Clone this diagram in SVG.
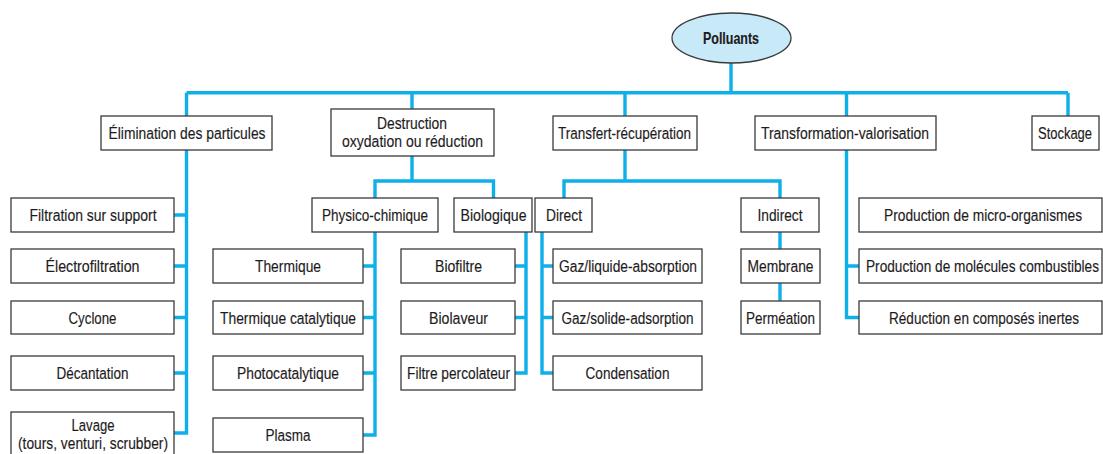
<svg xmlns="http://www.w3.org/2000/svg" width="1103" height="454" viewBox="0 0 1103 454">
<style>
.c{fill:none;stroke:#0fafe9;stroke-width:3.4;stroke-linejoin:miter;stroke-linecap:butt}
.b{fill:#ffffff;stroke:#3a3a3a;stroke-width:1.3}
.t{font-family:"Liberation Sans",Arial,sans-serif;font-size:17px;fill:#1e1b1c;stroke:#1e1b1c;stroke-width:0.15;text-anchor:middle}
.tb{font-weight:bold}
</style>
<rect width="1103" height="454" fill="#ffffff"/>
<g id="connectors">
<path class="c" d="M731,63V92.7M186.5,92.7H1068M186.5,92.7V116M412,92.7V109M625,92.7V116M846.5,92.7V116M1068,92.7V116"/>
<path class="c" d="M186.5,150V433H174M174,215H186.5M174,266H186.5M174,317.5H186.5M174,373H186.5"/>
<path class="c" d="M412,156V181M375,198V181H493.5V198"/>
<path class="c" d="M375,232V435H363M363,266H375M363,317.5H375M363,373H375"/>
<path class="c" d="M526,232V373H515M515,266H526M515,317.5H526"/>
<path class="c" d="M625,150V181M564,198V181H780V198"/>
<path class="c" d="M542,232V373H553M553,266H542M553,317.5H542"/>
<path class="c" d="M780,232V249M780,283V301"/>
<path class="c" d="M846.5,150V317.5H859M859,266H846.5"/>
</g>
<g id="polluants">
<ellipse cx="731.5" cy="38" rx="59.5" ry="25" fill="#c8e9f8" stroke="#3a3a3a" stroke-width="1.3"/>
<text class="t tb" transform="translate(731,44) scale(0.8,1)" textLength="70" lengthAdjust="spacingAndGlyphs">Polluants</text>
</g>
<g id="elimination">
<rect class="b" x="101" y="116" width="171" height="34"/>
<text class="t" transform="translate(187,139) scale(0.8,1)" textLength="196.25" lengthAdjust="spacingAndGlyphs">Élimination des particules</text>
</g>
<g id="destruction">
<rect class="b" x="331" y="109" width="163" height="47"/>
<text class="t" transform="translate(412,128.5) scale(0.8,1)" textLength="87.5" lengthAdjust="spacingAndGlyphs">Destruction</text>
<text class="t" transform="translate(412.5,146.5) scale(0.8,1)" textLength="176.25" lengthAdjust="spacingAndGlyphs">oxydation ou réduction</text>
</g>
<g id="transfert">
<rect class="b" x="553" y="116" width="144" height="34"/>
<text class="t" transform="translate(624.5,139) scale(0.8,1)" textLength="166.25" lengthAdjust="spacingAndGlyphs">Transfert-récupération</text>
</g>
<g id="transformation">
<rect class="b" x="755" y="116" width="181" height="34"/>
<text class="t" transform="translate(845,139) scale(0.8,1)" textLength="210" lengthAdjust="spacingAndGlyphs">Transformation-valorisation</text>
</g>
<g id="stockage">
<rect class="b" x="1032" y="116" width="67" height="34"/>
<text class="t" transform="translate(1065,139) scale(0.8,1)" textLength="67.5" lengthAdjust="spacingAndGlyphs">Stockage</text>
</g>
<g id="filtration">
<rect class="b" x="11" y="198" width="163" height="34"/>
<text class="t" transform="translate(93,221) scale(0.8,1)" textLength="158.75" lengthAdjust="spacingAndGlyphs">Filtration sur support</text>
</g>
<g id="electrofiltration">
<rect class="b" x="11" y="249" width="163" height="34"/>
<text class="t" transform="translate(92.5,272) scale(0.8,1)" textLength="117.5" lengthAdjust="spacingAndGlyphs">Électrofiltration</text>
</g>
<g id="cyclone">
<rect class="b" x="11" y="301" width="163" height="33"/>
<text class="t" transform="translate(92.5,323.5) scale(0.8,1)" textLength="60" lengthAdjust="spacingAndGlyphs">Cyclone</text>
</g>
<g id="decantation">
<rect class="b" x="11" y="356" width="163" height="34"/>
<text class="t" transform="translate(92.5,379) scale(0.8,1)" textLength="90" lengthAdjust="spacingAndGlyphs">Décantation</text>
</g>
<g id="lavage">
<rect class="b" x="11" y="412" width="163" height="46"/>
<text class="t" transform="translate(93,431) scale(0.8,1)" textLength="53.75" lengthAdjust="spacingAndGlyphs">Lavage</text>
<text class="t" transform="translate(93,448.5) scale(0.8,1)" textLength="187.5" lengthAdjust="spacingAndGlyphs">(tours, venturi, scrubber)</text>
</g>
<g id="physico">
<rect class="b" x="312" y="198" width="126" height="34"/>
<text class="t" transform="translate(375,221) scale(0.8,1)" textLength="132.5" lengthAdjust="spacingAndGlyphs">Physico-chimique</text>
</g>
<g id="biologique">
<rect class="b" x="454" y="198" width="78" height="34"/>
<text class="t" transform="translate(493.5,221) scale(0.8,1)" textLength="82.5" lengthAdjust="spacingAndGlyphs">Biologique</text>
</g>
<g id="direct">
<rect class="b" x="535" y="198" width="57" height="34"/>
<text class="t" transform="translate(564,221) scale(0.8,1)" textLength="45" lengthAdjust="spacingAndGlyphs">Direct</text>
</g>
<g id="indirect">
<rect class="b" x="741" y="198" width="78" height="34"/>
<text class="t" transform="translate(780,221) scale(0.8,1)" textLength="56.25" lengthAdjust="spacingAndGlyphs">Indirect</text>
</g>
<g id="micro">
<rect class="b" x="859" y="198" width="243" height="34"/>
<text class="t" transform="translate(983,221) scale(0.8,1)" textLength="247.5" lengthAdjust="spacingAndGlyphs">Production de micro-organismes</text>
</g>
<g id="thermique">
<rect class="b" x="213" y="249" width="150" height="34"/>
<text class="t" transform="translate(288,272) scale(0.8,1)" textLength="82.5" lengthAdjust="spacingAndGlyphs">Thermique</text>
</g>
<g id="thermique-catalytique">
<rect class="b" x="213" y="301" width="150" height="33"/>
<text class="t" transform="translate(288,323.5) scale(0.8,1)" textLength="170" lengthAdjust="spacingAndGlyphs">Thermique catalytique</text>
</g>
<g id="photocatalytique">
<rect class="b" x="213" y="356" width="150" height="34"/>
<text class="t" transform="translate(288,379) scale(0.8,1)" textLength="127.5" lengthAdjust="spacingAndGlyphs">Photocatalytique</text>
</g>
<g id="plasma">
<rect class="b" x="213" y="418" width="150" height="34"/>
<text class="t" transform="translate(288,440.5) scale(0.8,1)" textLength="56.25" lengthAdjust="spacingAndGlyphs">Plasma</text>
</g>
<g id="biofiltre">
<rect class="b" x="401" y="249" width="114" height="34"/>
<text class="t" transform="translate(458.5,272) scale(0.8,1)" textLength="58.75" lengthAdjust="spacingAndGlyphs">Biofiltre</text>
</g>
<g id="biolaveur">
<rect class="b" x="401" y="301" width="114" height="33"/>
<text class="t" transform="translate(458.5,323.5) scale(0.8,1)" textLength="73.75" lengthAdjust="spacingAndGlyphs">Biolaveur</text>
</g>
<g id="percolateur">
<rect class="b" x="401" y="356" width="114" height="34"/>
<text class="t" transform="translate(458.5,379) scale(0.8,1)" textLength="128.75" lengthAdjust="spacingAndGlyphs">Filtre percolateur</text>
</g>
<g id="gaz-liquide">
<rect class="b" x="553" y="249" width="149" height="34"/>
<text class="t" transform="translate(628,272) scale(0.8,1)" textLength="172.5" lengthAdjust="spacingAndGlyphs">Gaz/liquide-absorption</text>
</g>
<g id="gaz-solide">
<rect class="b" x="553" y="301" width="149" height="33"/>
<text class="t" transform="translate(627.5,323.5) scale(0.8,1)" textLength="165" lengthAdjust="spacingAndGlyphs">Gaz/solide-adsorption</text>
</g>
<g id="condensation">
<rect class="b" x="553" y="356" width="149" height="34"/>
<text class="t" transform="translate(627.5,379) scale(0.8,1)" textLength="105" lengthAdjust="spacingAndGlyphs">Condensation</text>
</g>
<g id="membrane">
<rect class="b" x="741" y="249" width="79" height="34"/>
<text class="t" transform="translate(780.5,272) scale(0.8,1)" textLength="82.5" lengthAdjust="spacingAndGlyphs">Membrane</text>
</g>
<g id="permeation">
<rect class="b" x="741" y="301" width="79" height="33"/>
<text class="t" transform="translate(780.5,323.5) scale(0.8,1)" textLength="86.25" lengthAdjust="spacingAndGlyphs">Perméation</text>
</g>
<g id="molecules">
<rect class="b" x="859" y="249" width="243" height="34"/>
<text class="t" transform="translate(982.5,272) scale(0.8,1)" textLength="291.25" lengthAdjust="spacingAndGlyphs">Production de molécules combustibles</text>
</g>
<g id="reduction">
<rect class="b" x="859" y="301" width="243" height="33"/>
<text class="t" transform="translate(984,323.5) scale(0.8,1)" textLength="237.5" lengthAdjust="spacingAndGlyphs">Réduction en composés inertes</text>
</g>
</svg>
